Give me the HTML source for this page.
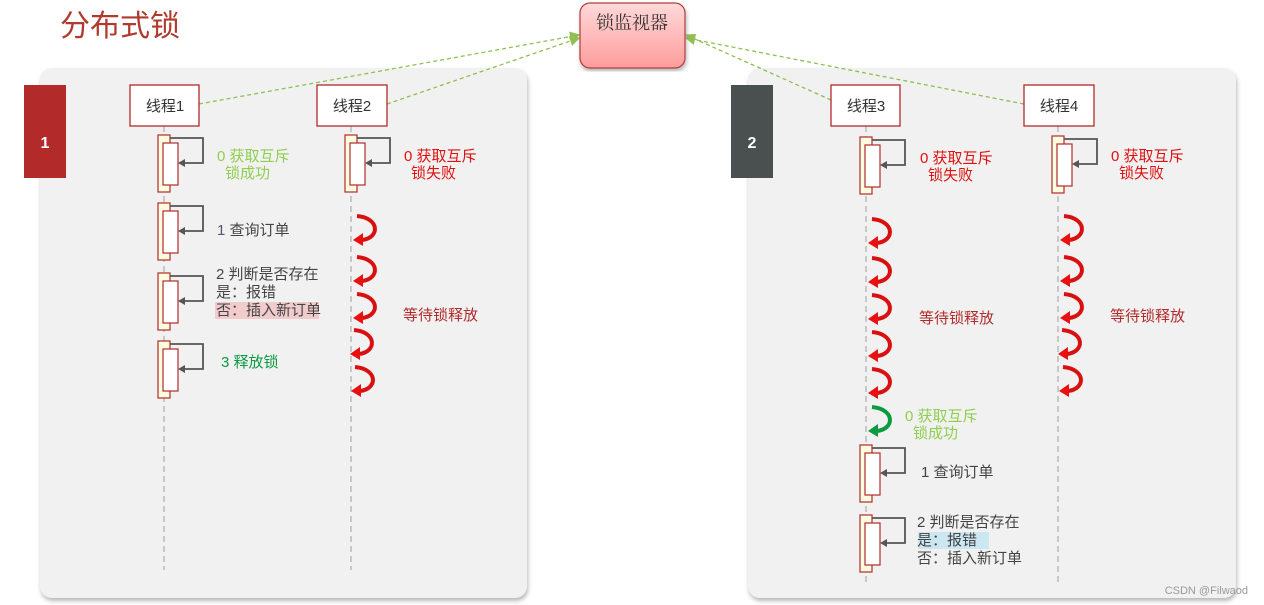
<!DOCTYPE html>
<html><head><meta charset="utf-8"><style>
html,body{margin:0;padding:0;background:#fff;}
svg{display:block;font-family:"Liberation Sans","Noto Sans CJK SC",sans-serif;}
</style></head><body>
<svg width="1264" height="605" viewBox="0 0 1264 605" xmlns="http://www.w3.org/2000/svg">
<defs>
<filter id="sh" x="-5%" y="-5%" width="110%" height="110%"><feDropShadow dx="1" dy="3" stdDeviation="2" flood-color="#888" flood-opacity="0.6"/></filter>
<linearGradient id="pg" x1="0" y1="0" x2="0" y2="1"><stop offset="0" stop-color="#ffd9d9"/><stop offset="1" stop-color="#ff9c9c"/></linearGradient>
<g id="curl"><path d="M-8,1 C15,3 15,23 -3,25" fill="none" stroke="#d81010" stroke-width="4"/><polygon points="-12,25 -2,18 -2,31" fill="#e81010"/></g>
<g id="curlg"><path d="M-8,1 C15,3 15,23 -3,25" fill="none" stroke="#0a9a40" stroke-width="4"/><polygon points="-12,25 -2,18 -2,31" fill="#0a9a40"/></g>
<g id="act"><rect x="-6" y="0" width="12" height="57" fill="#fffde0" stroke="#b22a2a" stroke-width="1.2"/><rect x="-1" y="8" width="15" height="42" fill="#fff" stroke="#b22a2a" stroke-width="1.2"/><polyline points="6,3 39,3 39,28 19,28" fill="none" stroke="#555" stroke-width="1.8"/><polygon points="14,28 21,24 21,32" fill="#555"/></g>
<marker id="ga" markerWidth="8" markerHeight="8" refX="7" refY="4" orient="auto"><polygon points="0,0 8,4 0,8" fill="#8fbf4f"/></marker>
</defs>

<text x="60" y="36" font-size="30" fill="#b03a2e">分布式锁</text>

<rect x="40" y="68" width="487" height="530" rx="12" fill="#f1f1f1" filter="url(#sh)"/>
<rect x="748" y="68" width="488" height="530" rx="12" fill="#f1f1f1" filter="url(#sh)"/>

<rect x="24" y="85" width="42" height="93" fill="#b22a2a"/>
<text x="45" y="148" font-size="16" fill="#fff" text-anchor="middle" font-weight="bold">1</text>
<rect x="731" y="85" width="42" height="93" fill="#4a4f4f"/>
<text x="752" y="148" font-size="16" fill="#fff" text-anchor="middle" font-weight="bold">2</text>

<g stroke="#8fbf4f" stroke-width="1.3" stroke-dasharray="4,3" fill="none">
<line x1="199" y1="104" x2="579" y2="35" marker-end="url(#ga)"/>
<line x1="387" y1="104" x2="579" y2="38" marker-end="url(#ga)"/>
<line x1="831" y1="100" x2="686" y2="35" marker-end="url(#ga)"/>
<line x1="1024" y1="104" x2="686" y2="38" marker-end="url(#ga)"/>
</g>

<rect x="580" y="3" width="105" height="65" rx="10" fill="url(#pg)" stroke="#b33a3a" stroke-width="1.2" filter="url(#sh)"/>
<text x="632" y="29" font-size="18" fill="#333" text-anchor="middle" font-family="Liberation Serif,Noto Serif CJK SC,serif">锁监视器</text>

<g stroke="#bbb" stroke-width="1.5" stroke-dasharray="6,4">
<line x1="164" y1="126" x2="164" y2="570"/>
<line x1="351" y1="126" x2="351" y2="570"/>
<line x1="866" y1="126" x2="866" y2="585"/>
<line x1="1058" y1="126" x2="1058" y2="585"/>
</g>

<g fill="#fff" stroke="#b22a2a" stroke-width="1.3">
<rect x="130" y="85" width="69" height="41"/>
<rect x="317" y="85" width="70" height="41"/>
<rect x="831" y="85" width="69" height="41"/>
<rect x="1024" y="85" width="70" height="41"/>
</g>
<g font-size="15" fill="#333" text-anchor="middle">
<text x="165" y="111">线程1</text>
<text x="352" y="111">线程2</text>
<text x="866" y="111">线程3</text>
<text x="1059" y="111">线程4</text>
</g>

<use href="#act" x="164" y="135"/>
<use href="#act" x="164" y="203"/>
<use href="#act" x="164" y="273"/>
<use href="#act" x="164" y="341"/>
<g font-size="15">
<text x="217" y="161" fill="#8fcf4f">0 获取互斥</text>
<text x="225" y="178" fill="#8fcf4f">锁成功</text>
<text x="217" y="235" fill="#444"><tspan fill="#557">1</tspan> 查询订单</text>
<rect x="215" y="302" width="104" height="17" fill="#f2cccc"/>
<text x="216" y="279" fill="#444">2 判断是否存在</text>
<text x="216" y="297" fill="#444">是：报错</text>
<text x="216" y="315" fill="#444">否：插入新订单</text>
<text x="221" y="367" fill="#0a9a40">3 释放锁</text>
</g>

<use href="#act" x="351" y="135"/>
<g font-size="15" fill="#e01010">
<text x="404" y="161">0 获取互斥</text>
<text x="411" y="178">锁失败</text>
</g>
<use href="#curl" x="365" y="215"/>
<use href="#curl" x="365" y="256"/>
<use href="#curl" x="365" y="293"/>
<use href="#curl" x="362" y="329"/>
<use href="#curl" x="363" y="366"/>
<text x="403" y="320" font-size="15" fill="#b22a2a">等待锁释放</text>

<use href="#act" x="866" y="137"/>
<g font-size="15" fill="#e01010">
<text x="920" y="163">0 获取互斥</text>
<text x="928" y="180">锁失败</text>
</g>
<use href="#curl" x="880" y="218"/>
<use href="#curl" x="880" y="257"/>
<use href="#curl" x="880" y="294"/>
<use href="#curl" x="880" y="331"/>
<use href="#curl" x="880" y="368"/>
<text x="919" y="323" font-size="15" fill="#b22a2a">等待锁释放</text>
<use href="#curlg" x="880" y="406"/>
<g font-size="15" fill="#8fcf4f">
<text x="905" y="421">0 获取互斥</text>
<text x="913" y="438">锁成功</text>
</g>
<use href="#act" x="866" y="445"/>
<use href="#act" x="866" y="515"/>
<g font-size="15" fill="#444">
<text x="921" y="477">1 查询订单</text>
<rect x="918" y="532" width="71" height="17" fill="#cce6f2"/>
<text x="917" y="527">2 判断是否存在</text>
<text x="917" y="545">是：报错</text>
<text x="917" y="563">否：插入新订单</text>
</g>

<use href="#act" x="1058" y="136"/>
<g font-size="15" fill="#e01010">
<text x="1111" y="161">0 获取互斥</text>
<text x="1119" y="178">锁失败</text>
</g>
<use href="#curl" x="1072" y="215"/>
<use href="#curl" x="1072" y="256"/>
<use href="#curl" x="1072" y="293"/>
<use href="#curl" x="1070" y="329"/>
<use href="#curl" x="1071" y="366"/>
<text x="1110" y="321" font-size="15" fill="#b22a2a">等待锁释放</text>

<text x="1248" y="594" font-size="11" fill="#999" text-anchor="end">CSDN @Filwaod</text>
</svg>
</body></html>
